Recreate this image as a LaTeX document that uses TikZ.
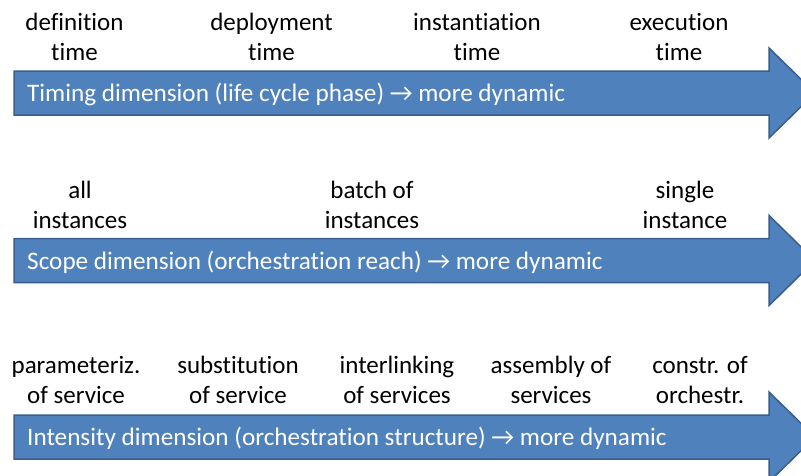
\documentclass[tikz,border=0pt]{standalone}
\usepackage{fontspec}
\setmainfont{Carlito}[Ligatures={NoCommon,NoContextual}]
\begin{document}
\begin{tikzpicture}[x=1pt,y=-1pt,
  bigarrow/.style={fill=arrowblue,draw=arrowedge,line width=1.5pt,line join=miter},
  lbl/.style={align=center,font=\fontsize{25}{30}\selectfont,text=black,anchor=base,inner sep=0pt},
  atxt/.style={font=\fontsize{25.2}{30}\selectfont,text=white,anchor=base west,inner sep=0pt}]
\definecolor{arrowblue}{HTML}{4F81BD}
\definecolor{arrowedge}{HTML}{385D8A}
\useasboundingbox (0,0) rectangle (801,475);
\clip (0,0) rectangle (801,475);
% arrows
\foreach \c in {93,260.5,437}{
  \draw[bigarrow] (14,\c-22) -- (769,\c-22) -- (769,\c-45) -- (815,\c) -- (769,\c+45) -- (769,\c+22) -- (14,\c+22) -- cycle;
}
\node[atxt] (t1) at (27,101) {Timing dimension (life cycle phase) → more dynamic};
\node[atxt] (t2) at (27,269) {Scope dimension (orchestration reach) → more dynamic};
\node[atxt] (t3) at (27,445) {Intensity dimension (orchestration structure) → more dynamic};
% labels row 1
\node[lbl] (a1) at (74.5,60) {definition\\time};
\node[lbl] (a2) at (271.5,60) {deployment\\time};
\node[lbl] (a3) at (477,60) {instantiation\\time};
\node[lbl] (a4) at (679,60) {execution\\time};
% row 2
\node[lbl] (b1) at (80,228) {all\\instances};
\node[lbl] (b2) at (372,228) {batch of\\instances};
\node[lbl] (b3) at (685,228) {single\\instance};
% row 3
\node[lbl] (c1) at (76,403) {parameteriz.\\of service};
\node[lbl] (c2) at (238,403) {substitution\\of service};
\node[lbl] (c3) at (397,403) {interlinking\\of services};
\node[lbl] (c4) at (551,403) {assembly of\\services};
\node[lbl] (c5) at (700,403) {constr. of\\orchestr.};
\end{tikzpicture}
\end{document}
